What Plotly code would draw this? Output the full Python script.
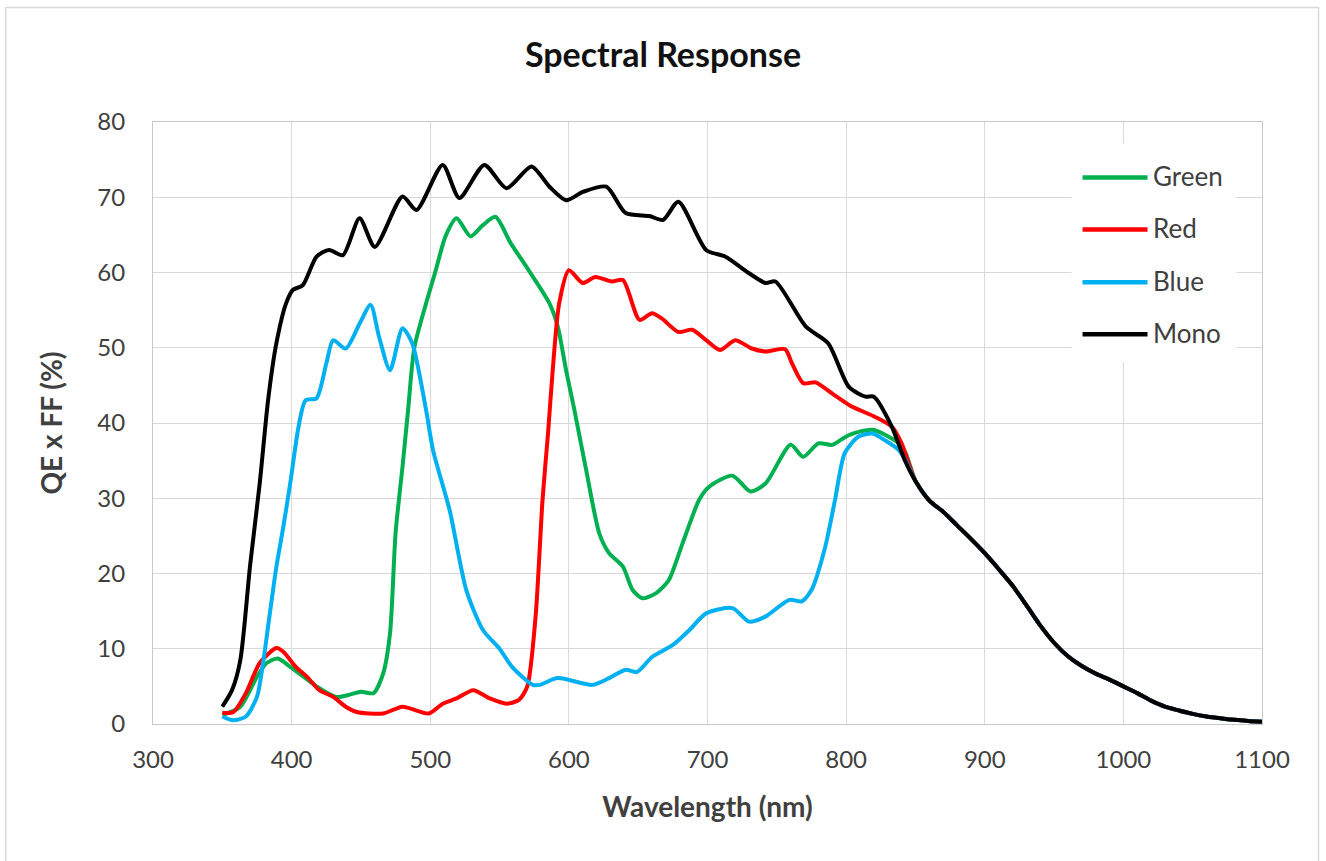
import plotly.graph_objects as go

# ---- data ----
tail_wl = [850, 860, 870, 880, 890, 900, 910, 920, 930, 940, 950, 960, 970, 980, 990,
           1000, 1010, 1020, 1030, 1040, 1050, 1060, 1070, 1080, 1090, 1100]
tail_qe = [32.3, 29.7, 28.2, 26.4, 24.6, 22.7, 20.6, 18.4, 15.8, 13.1, 10.8, 9.0, 7.7, 6.7, 5.9,
           5.0, 4.1, 3.1, 2.3, 1.8, 1.35, 1.0, 0.75, 0.55, 0.4, 0.3]

green_wl = [350, 363, 375, 382, 390, 399, 418, 432, 442, 450, 459, 466, 471, 475, 480, 484,
            488.5, 497, 504, 511, 519, 529, 538, 547, 558, 571, 586, 592, 598, 604, 612, 622,
            629, 639, 646, 653, 663, 672, 682, 694, 701, 718, 731, 742, 760, 769, 780, 790,
            802, 819, 838, 843]
green_qe = [1.2, 2.3, 6.3, 8.1, 8.7, 7.6, 5.0, 3.6, 3.9, 4.3, 4.1, 6.7, 12.1, 25.4, 34.2, 41.7,
            50.0, 55.9, 60.3, 64.8, 67.2, 64.8, 66.3, 67.4, 63.9, 60.3, 55.9, 52.8, 47.0, 41.7, 34.2, 25.3,
            22.7, 20.9, 17.8, 16.7, 17.4, 19.1, 24.0, 29.8, 31.5, 33.0, 30.9, 32.0, 37.1, 35.5, 37.3, 37.1,
            38.4, 39.1, 37.3, 36.0]

red_wl = [350, 358, 367, 377, 389, 394, 403, 411, 420, 430, 439, 447, 466, 480, 499, 509, 519,
          531, 543, 555, 564, 570, 576, 581, 585, 588, 593, 600, 610, 619, 631, 639, 651, 660,
          667, 679, 689, 699, 709, 720, 732, 742, 756, 761, 769, 778, 790, 803, 821, 833, 840]
red_qe = [1.5, 1.6, 4.1, 8.1, 10.1, 9.6, 7.6, 6.3, 4.5, 3.6, 2.3, 1.6, 1.4, 2.3, 1.4, 2.7, 3.4,
          4.5, 3.4, 2.7, 3.2, 5.0, 14.3, 29.8, 38.7, 46.2, 55.9, 60.3, 58.6, 59.4, 58.8, 59.0, 53.7, 54.6,
          53.9, 52.1, 52.4, 51.0, 49.7, 51.0, 49.9, 49.5, 49.8, 47.9, 45.3, 45.4, 43.9, 42.3, 40.8, 39.5, 37.3]

blue_wl = [350, 358, 367, 375, 379, 384, 389, 394, 399, 405, 410, 418, 425, 430, 439, 449, 457,
           463, 471, 480, 487, 497, 502, 514, 526, 538, 550, 559, 574, 579, 592, 617, 629, 641,
           649, 660, 675, 687, 699, 718, 730, 742, 759, 768, 775, 785, 792, 799, 809, 819, 828,
           838, 843]
blue_qe = [1.0, 0.5, 1.0, 3.6, 7.6, 14.3, 20.9, 26.2, 32.0, 39.5, 43.0, 43.3, 47.9, 51.0, 49.9, 53.2, 55.7,
           51.5, 47.0, 52.6, 50.6, 41.7, 36.4, 28.4, 17.8, 12.5, 10.0, 7.6, 5.2, 5.2, 6.1, 5.2, 6.1, 7.2,
           6.9, 8.9, 10.5, 12.5, 14.7, 15.4, 13.6, 14.3, 16.5, 16.3, 17.8, 23.6, 29.8, 36.0, 38.2, 38.6, 37.7,
           36.4, 35.0]

mono_wl = [350, 357, 363, 370, 377, 383, 389, 396, 401, 408, 418, 427, 437, 449, 460, 480, 490,
           509, 521, 539, 555, 573, 586, 598, 610, 627, 641, 658, 668, 679, 699, 713, 730, 742,
           749, 771, 787, 802, 814, 820, 833, 842]
mono_qe = [2.3, 4.5, 8.5, 21.0, 32.0, 43.0, 50.6, 55.9, 57.7, 58.3, 62.1, 63.0, 62.3, 67.2, 63.4, 70.1, 68.3,
           74.3, 69.9, 74.3, 71.2, 74.1, 71.4, 69.6, 70.7, 71.4, 67.9, 67.5, 67.0, 69.4, 63.0, 62.1, 59.9, 58.6,
           58.8, 52.8, 50.6, 44.8, 43.5, 43.5, 39.5, 35.2]

series_names = ["Green", "Red", "Blue", "Mono"]
series_colors = ["#00B050", "#FF0000", "#00B0F0", "#000000"]
x_ticks = [300, 400, 500, 600, 700, 800, 900, 1000, 1100]
y_ticks = [0, 10, 20, 30, 40, 50, 60, 70, 80]

FONT = "Lato"
TXT = "#404040"
GRID = "#D9D9D9"

series = [
    (green_wl + tail_wl, green_qe + tail_qe),
    (red_wl + tail_wl, red_qe + tail_qe),
    (blue_wl + tail_wl, blue_qe + tail_qe),
    (mono_wl + tail_wl, mono_qe + tail_qe),
]

fig = go.Figure()
for (wl, qe), name, col in zip(series, series_names, series_colors):
    fig.add_trace(go.Scatter(x=wl, y=qe, mode="lines", name=name,
                             line=dict(color=col, width=4, shape="spline", smoothing=0.7),
                             showlegend=False))

# plot-area pixel geometry (for paper coordinates)
L, R, T, B = 153.3, 1262.5, 121.5, 724.0
W, H = R - L, B - T
def px(xp):
    return (xp - L) / W
def py(yp):
    return (B - yp) / H

shapes = [
    # outer chart border
    dict(type="rect", xref="paper", yref="paper", x0=px(6), x1=px(1319), y0=py(905), y1=py(7),
         line=dict(color=GRID, width=1.5), fillcolor="rgba(0,0,0,0)", layer="below"),
    # legend background
    dict(type="rect", xref="paper", yref="paper", x0=px(1072), x1=px(1237), y0=py(362), y1=py(143),
         line=dict(width=0), fillcolor="white", layer="above"),
]
annotations = []
leg_y = [177, 229, 282, 334]
for name, col, yy in zip(series_names, series_colors, leg_y):
    shapes.append(dict(type="line", xref="paper", yref="paper", x0=px(1083), x1=px(1148),
                       y0=py(yy), y1=py(yy), line=dict(color=col, width=4.5), layer="above"))
    annotations.append(dict(text=name, xref="paper", yref="paper", x=px(1151), y=py(yy - 1),
                            xanchor="left", yanchor="middle", showarrow=False,
                            font=dict(family=FONT, size=26, color=TXT)))

fig.update_layout(
    width=1326, height=861,
    margin=dict(l=153, r=64, t=122, b=137, pad=0),
    paper_bgcolor="white", plot_bgcolor="white",
    title=dict(text="<b>Spectral Response</b>", x=0.5, xref="container",
               xanchor="center", y=1 - 55 / 861, yanchor="middle",
               font=dict(family=FONT, size=34, color="#111111")),
    xaxis=dict(range=[300, 1100], tickvals=x_ticks, showgrid=True, gridcolor=GRID, gridwidth=1,
               zeroline=False, showline=True, linecolor="#C8C8C8", linewidth=1, mirror=True,
               ticks="", ticklabelstandoff=14,
               tickfont=dict(family=FONT, size=24, color=TXT),
               title=dict(text="<b>Wavelength (nm)</b>", standoff=25,
                          font=dict(family=FONT, size=28, color=TXT))),
    yaxis=dict(range=[0, 80], tickvals=y_ticks, showgrid=True, gridcolor=GRID, gridwidth=1,
               zeroline=False, showline=True, linecolor="#C8C8C8", linewidth=1, mirror=True,
               ticks="", ticklabelstandoff=22,
               tickfont=dict(family=FONT, size=24, color=TXT),
               title=dict(text="<b>QE x FF (%)</b>", standoff=26,
                          font=dict(family=FONT, size=28, color=TXT))),
    shapes=shapes, annotations=annotations,
)

fig.write_html("out.html", config={"displayModeBar": False},
               post_script="document.body.style.margin='0';document.body.style.overflow='hidden';")
